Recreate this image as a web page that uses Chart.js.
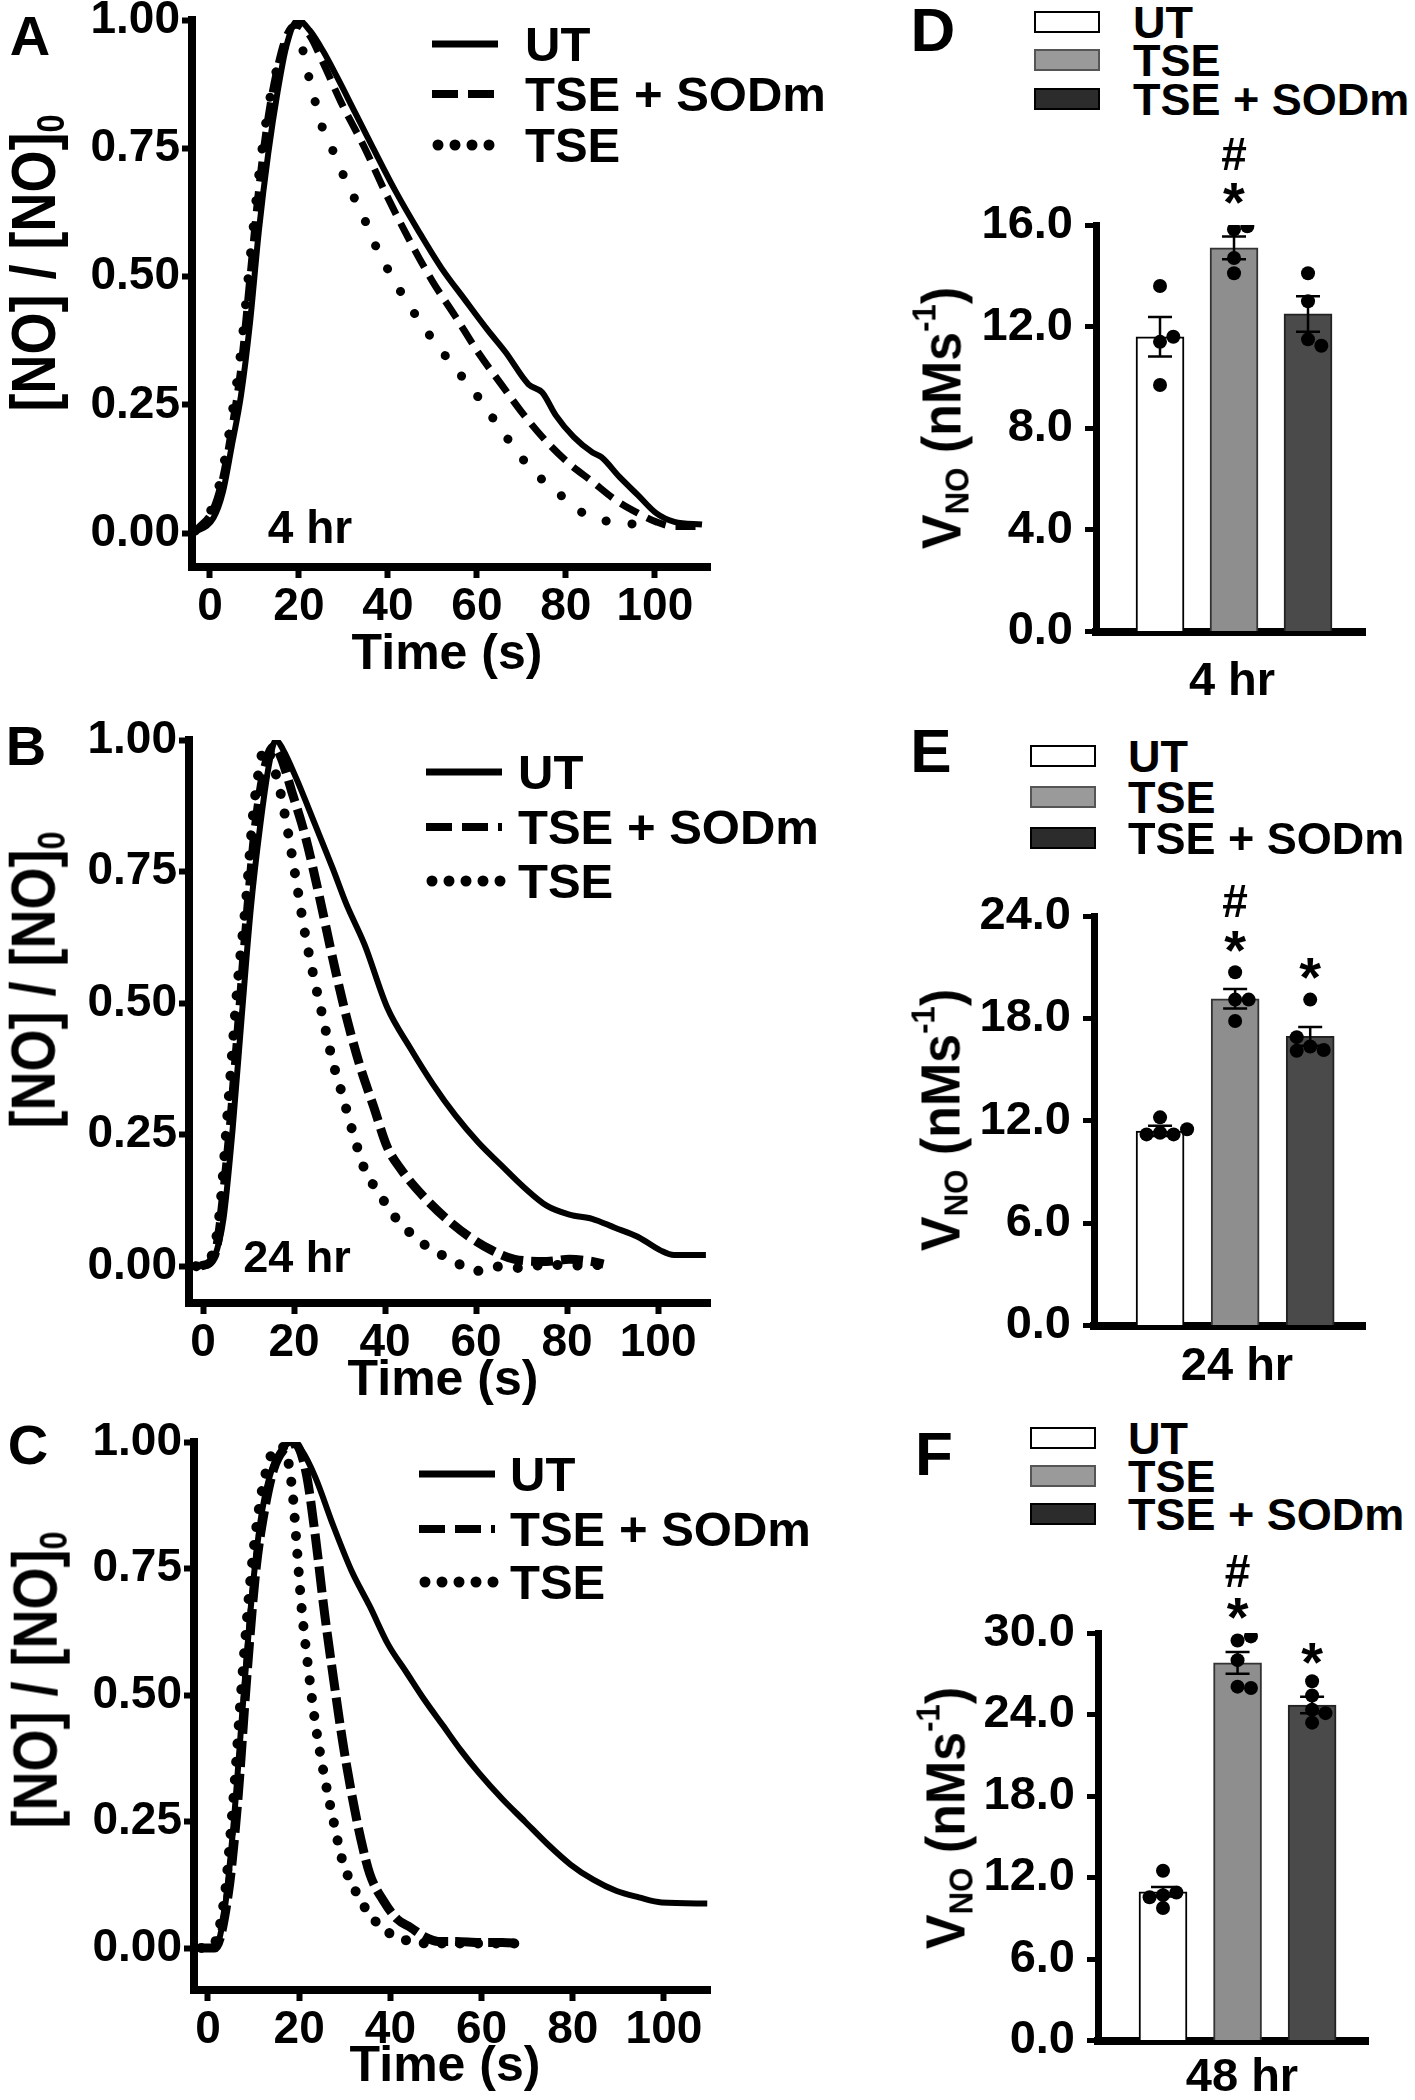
<!DOCTYPE html>
<html>
<head>
<meta charset="utf-8">
<script src="https://cdn.jsdelivr.net/npm/chart.js@4.4.1/dist/chart.umd.min.js"></script>
<style>
  body { margin: 0; background: #fff; width: 1415px; height: 2100px; position: relative; overflow: hidden;
         font-family: "Liberation Sans", Arial, sans-serif; font-weight: bold; color: #000; }
  canvas { position: absolute; }
  .c { position: absolute; transform: translate(-50%, -50%); white-space: nowrap; line-height: 1; }
  .l { position: absolute; transform: translateY(-50%); white-space: nowrap; line-height: 1; }
  .rot { position: absolute; transform: translate(-50%, -50%) scaleX(1.17) rotate(-90deg); white-space: nowrap; line-height: 1; }
  .rot2 { position: absolute; transform: translate(-50%, -50%) scaleX(1.07) rotate(-90deg); white-space: nowrap; line-height: 1; }
  sub, sup { font-size: 60%; }
  sub { vertical-align: -0.25em; }
  sup { vertical-align: 0.75em; }
  .box { position: absolute; border: 2px solid #000; box-sizing: border-box; }
</style>
</head>
<body>

<canvas id="chartA" width="680" height="642" style="left:50px;top:-10px"></canvas>
<canvas id="chartB" width="680" height="668" style="left:50px;top:700px"></canvas>
<canvas id="chartC" width="680" height="655" style="left:50px;top:1400px"></canvas>
<canvas id="chartD" width="420" height="537" style="left:960px;top:130px"></canvas>
<canvas id="chartE" width="420" height="501" style="left:960px;top:860px"></canvas>
<canvas id="chartF" width="420" height="536" style="left:960px;top:1540px"></canvas>

<div class="c" style="left:30px;top:36px;font-size:56px">A</div>
<div class="c" style="left:26px;top:746px;font-size:56px">B</div>
<div class="c" style="left:28px;top:1445px;font-size:56px">C</div>
<div class="c" style="left:933px;top:30px;font-size:62px">D</div>
<div class="c" style="left:931px;top:751px;font-size:62px">E</div>
<div class="c" style="left:934px;top:1454px;font-size:62px">F</div>

<div class="rot" style="left:36px;top:263px;font-size:54px">[NO] / [NO]<sub>0</sub></div>
<div class="rot" style="left:36px;top:980px;font-size:54px">[NO] / [NO]<sub>0</sub></div>
<div class="rot" style="left:38px;top:1680px;font-size:54px">[NO] / [NO]<sub>0</sub></div>

<div class="c" style="left:447px;top:652px;font-size:50px">Time (s)</div>
<div class="c" style="left:443px;top:1378px;font-size:50px">Time (s)</div>
<div class="c" style="left:445px;top:2064px;font-size:50px">Time (s)</div>

<div class="c" style="left:310px;top:527px;font-size:46px">4 hr</div>
<div class="c" style="left:297px;top:1256px;font-size:45px">24 hr</div>

<div class="rot2" style="left:941px;top:418px;font-size:52px">V<sub>NO</sub> (nMs<sup>-1</sup>)</div>
<div class="rot2" style="left:940px;top:1120px;font-size:52px">V<sub>NO</sub> (nMs<sup>-1</sup>)</div>
<div class="rot2" style="left:945px;top:1818px;font-size:52px">V<sub>NO</sub> (nMs<sup>-1</sup>)</div>

<div class="c" style="left:1232px;top:678px;font-size:47px">4 hr</div>
<div class="c" style="left:1237px;top:1363px;font-size:47px">24 hr</div>
<div class="c" style="left:1242px;top:2074px;font-size:47px">48 hr</div>

<script>
// ---- time courses, [NO]/[NO]0 vs time (s) ----
const timeTicks = [0, 20, 40, 60, 80, 100];
const ratioTicks = [0, 0.25, 0.5, 0.75, 1];
const lineNames = ['UT', 'TSE + SODm', 'TSE'];

// A - 4 hr
const tA_UT = [-3.8, 0.8, 2.9, 4.9, 7, 9, 11, 13.1, 15.2, 17.2, 19.8, 22.4, 25.4, 28.5, 32.6, 36.7, 41.8, 47, 52, 57.2, 62.4, 66.5, 71.6, 74.7, 77.7, 81.8, 86, 88, 92.1, 96.2, 100.3, 104.4, 110.6];
const yA_UT = [0, 0.03, 0.08, 0.17, 0.27, 0.41, 0.59, 0.74, 0.86, 0.95, 1.0, 0.98, 0.94, 0.89, 0.82, 0.75, 0.665, 0.587, 0.517, 0.456, 0.396, 0.352, 0.29, 0.274, 0.23, 0.187, 0.157, 0.148, 0.109, 0.074, 0.039, 0.022, 0.017];
const tA_SOD = [-3.3, 0.8, 2.9, 4.9, 7, 9, 11, 13.1, 15.2, 17.2, 19.3, 22.4, 25.4, 29.5, 34.7, 39.8, 44.9, 50, 55.2, 60.3, 65.4, 70.6, 75.7, 80.8, 86, 91.1, 96.2, 100.3, 104.4, 110.6];
const yA_SOD = [0.004, 0.048, 0.109, 0.204, 0.326, 0.5, 0.674, 0.813, 0.909, 0.97, 0.99, 0.97, 0.917, 0.839, 0.752, 0.657, 0.57, 0.491, 0.422, 0.352, 0.291, 0.23, 0.178, 0.135, 0.1, 0.065, 0.039, 0.022, 0.013, 0.013];
const tA_TSE = [-3.3, 0.8, 2.9, 4.9, 7, 9, 11, 13.1, 15.2, 17.7, 20.3, 22.4, 25.4, 28.5, 31.1, 33.6, 36.7, 39.8, 42.9, 48.5, 54.7, 60.3, 65.9, 72.1, 78.3, 83.9, 90, 96.2];
const yA_TSE = [0.004, 0.057, 0.126, 0.23, 0.36, 0.535, 0.7, 0.83, 0.91, 0.957, 0.952, 0.883, 0.787, 0.73, 0.674, 0.635, 0.57, 0.517, 0.47, 0.396, 0.326, 0.265, 0.196, 0.126, 0.078, 0.039, 0.022, 0.017];

// B - 24 hr
const tB_UT = [-2, 0.5, 2.5, 4.5, 6.5, 8.5, 10.5, 12.5, 14.5, 16, 17.5, 20.5, 24.5, 28.5, 31.5, 35.5, 40.5, 45.5, 50.5, 55.5, 60.5, 65.5, 70.5, 75.5, 80.5, 85.5, 90.5, 95.5, 100.5, 103.5, 110.5];
const yB_UT = [0, 0, 0.017, 0.09, 0.26, 0.474, 0.68, 0.833, 0.953, 1.0, 0.983, 0.927, 0.842, 0.756, 0.688, 0.611, 0.491, 0.415, 0.346, 0.286, 0.235, 0.192, 0.15, 0.115, 0.098, 0.09, 0.073, 0.056, 0.03, 0.021, 0.021];
const tB_SOD = [-0.5, 2.5, 5.5, 7.5, 9.5, 11.5, 13.5, 15.5, 17, 19.5, 22.5, 25.5, 28.5, 31.5, 34.5, 37.5, 40.5, 43.5, 48.5, 53.5, 58.5, 63.5, 68.5, 75.5, 80.5, 85.5, 88];
const yB_SOD = [0, 0.02, 0.218, 0.423, 0.645, 0.833, 0.944, 0.987, 0.97, 0.902, 0.816, 0.705, 0.585, 0.474, 0.38, 0.303, 0.226, 0.184, 0.132, 0.09, 0.056, 0.03, 0.013, 0.009, 0.013, 0.009, 0.004];
const tB_TSE = [-1.5, 1.5, 3.5, 5.5, 7.5, 9.5, 11, 12.5, 13.5, 16.5, 18.5, 20.5, 22.5, 24.5, 26.5, 28.5, 30.5, 33, 35.5, 38.5, 42.5, 46.5, 50.5, 54.5, 58.5, 61.5, 65.5, 70.5, 75.5, 80.5, 85.5, 88.5];
const yB_TSE = [0, 0.013, 0.09, 0.303, 0.526, 0.7, 0.859, 0.953, 0.987, 0.919, 0.833, 0.731, 0.628, 0.543, 0.466, 0.389, 0.329, 0.252, 0.184, 0.141, 0.09, 0.056, 0.03, 0.013, -0.006, -0.009, 0, -0.004, 0.004, 0, 0.004, -0.004];

// C - 48 hr
const tC_UT = [-1.5, 1.5, 3.5, 5.5, 7.5, 9.5, 11.5, 13.5, 15.5, 18.5, 20.5, 23.5, 27.5, 31.5, 35.5, 39.5, 43.5, 47.5, 51.5, 55.5, 59.5, 64.5, 69.5, 74.5, 79.5, 84.5, 89.5, 94.5, 99.5, 109.5];
const yC_UT = [0, 0, 0.066, 0.234, 0.463, 0.684, 0.843, 0.931, 0.975, 1.0, 0.984, 0.931, 0.834, 0.745, 0.675, 0.6, 0.545, 0.49, 0.44, 0.39, 0.345, 0.295, 0.25, 0.205, 0.165, 0.135, 0.113, 0.1, 0.09, 0.088];
const tC_SOD = [-1.5, 1.5, 4.5, 6.5, 8.5, 10.5, 12.5, 14.5, 16.5, 19, 21.5, 23.5, 25.5, 27.5, 29.5, 31.5, 33.5, 35.5, 38.5, 41.5, 44.5, 47.5, 50.5, 54.5, 59.5, 64.5, 68.5];
const yC_SOD = [0, 0, 0.11, 0.287, 0.534, 0.746, 0.87, 0.949, 0.984, 0.997, 0.94, 0.817, 0.666, 0.534, 0.41, 0.305, 0.216, 0.146, 0.093, 0.057, 0.04, 0.022, 0.013, 0.013, 0.011, 0.011, 0.009];
const tC_TSE = [-1.5, 0.5, 3.5, 5.5, 7.5, 9.5, 11.5, 13.5, 15, 16.5, 18.5, 19.5, 20.5, 22, 23.5, 25.5, 27.5, 29.5, 32.5, 35.5, 39.5, 44.5, 49.5, 59.5, 69.5];
const yC_TSE = [0, 0, 0.093, 0.287, 0.534, 0.746, 0.887, 0.966, 0.99, 0.99, 0.904, 0.79, 0.675, 0.552, 0.446, 0.34, 0.252, 0.172, 0.11, 0.066, 0.031, 0.013, 0.009, 0.009, 0.009];

// ---- V_NO bar panels ----
const groups = ['UT', 'TSE', 'TSE + SODm'];
const barFill = ['#ffffff', '#8e8e8e', '#4a4a4a'];
const keyFill = ['#ffffff', '#9a9a9a', '#2c2c2c'];

const ticksD = [0, 4, 8, 12, 16];
const meanD = [11.6, 15.1, 12.5];
const semD = [0.78, 0.45, 0.7];
const ptsD_UT = [13.6, 11.4, 11.6, 9.7];
const ptsD_TSE = [15.83, 15.95, 14.7, 14.1];
const ptsD_SOD = [14.1, 13.0, 11.5, 11.25];
const markGrpD = [2, 2], markSymD = ['#', '*'], markValD = [18.8, 17.25];

const ticksE = [0, 6, 12, 18, 24];
const meanE = [11.4, 19.15, 16.95];
const semE = [0.3, 0.57, 0.55];
const ptsE_UT = [12.2, 11.3, 11.2, 11.2, 11.5];
const ptsE_TSE = [20.7, 19.1, 19.1, 17.85];
const ptsE_SOD = [19.1, 16.35, 16.15, 16.9, 16.1];
const markGrpE = [2, 2, 3], markSymE = ['#', '*', '*'], markValE = [24.9, 22.5, 20.9];

const ticksF = [0, 6, 12, 18, 24, 30];
const meanF = [10.95, 27.8, 24.7];
const semF = [0.35, 0.8, 0.6];
const ptsF_UT = [12.5, 10.7, 10.9, 10.55, 9.75];
const ptsF_TSE = [29.45, 29.75, 28.0, 26.05, 25.95];
const ptsF_SOD = [26.45, 25.4, 24.35, 23.4, 24.1];
const markGrpF = [2, 2, 3], markSymF = ['#', '*', '*'], markValF = [34.6, 31.8, 28.5];

Chart.defaults.font.family = '"Liberation Sans", Arial, sans-serif';
Chart.defaults.font.weight = 'bold';
Chart.defaults.color = '#000';

const xy = (ts, vs) => ts.map((t, i) => ({ x: t, y: vs[i] }));

function lineChart(id, ut, sod, tse, xr, yr, padTop, yw, dot) {
  return new Chart(document.getElementById(id), {
    type: 'line',
    data: {
      datasets: [
        { data: ut, borderColor: '#000', borderWidth: 6 },
        { data: sod, borderColor: '#000', borderWidth: dot.dashW, borderDash: dot.dash },
        { data: tse, borderColor: '#000', borderWidth: dot.w, borderDash: [0.1, dot.gap], borderCapStyle: 'round' }
      ]
    },
    options: {
      responsive: false, animation: false, devicePixelRatio: 1,
      layout: { padding: { top: padTop, right: 20, left: 0, bottom: 0 } },
      plugins: { legend: { display: false }, tooltip: { enabled: false } },
      elements: { point: { radius: 0 }, line: { cubicInterpolationMode: 'monotone', fill: false } },
      scales: {
        x: {
          type: 'linear', min: xr[0], max: xr[1],
          afterBuildTicks: s => { s.ticks = timeTicks.map(v => ({ value: v })); },
          afterFit: s => { s.height = 65; },
          grid: { drawOnChartArea: false, tickLength: 11, tickWidth: 6, tickColor: '#000' },
          border: { color: '#000', width: 8 },
          ticks: { font: { size: 46, lineHeight: 1 }, padding: 6, maxRotation: 0, autoSkip: false }
        },
        y: {
          type: 'linear', min: yr[0], max: yr[1],
          afterBuildTicks: s => { s.ticks = ratioTicks.map(v => ({ value: v })); },
          afterFit: s => { s.width = yw; },
          grid: { drawOnChartArea: false, tickLength: 10, tickWidth: 6, tickColor: '#000' },
          border: { color: '#000', width: 8 },
          ticks: { font: { size: 46, lineHeight: 1 }, padding: 2, callback: v => v.toFixed(2) }
        }
      }
    }
  });
}

lineChart('chartA', xy(tA_UT, yA_UT), xy(tA_SOD, yA_SOD), xy(tA_TSE, yA_TSE),
  [-4.04, 112.4], [-0.066, 1.0], 30, 142, { dashW: 7, dash: [20, 10], w: 9, gap: 26 });
lineChart('chartB', xy(tB_UT, yB_UT), xy(tB_SOD, yB_SOD), xy(tB_TSE, yB_TSE),
  [-3.08, 111.4], [-0.070, 1.0], 40, 139, { dashW: 9, dash: [22, 8], w: 10, gap: 20 });
lineChart('chartC', xy(tC_UT, yC_UT), xy(tC_SOD, yC_SOD), xy(tC_TSE, yC_TSE),
  [-3.07, 110.1], [-0.083, 1.0], 42, 144, { dashW: 9, dash: [26, 7], w: 10, gap: 18 });

// spread overlapping dots sideways, GraphPad style
function swarm(vals, grp, pxPerUnit) {
  const placed = [];
  const slots = [0, 1, -1, 2, -2];
  return vals.map(v => {
    for (const k of slots) {
      const dx = k * 0.18;
      if (placed.every(p => Math.hypot((p.dx - dx) * 74, (p.v - v) * pxPerUnit) >= 13)) {
        placed.push({ dx, v });
        return { x: grp + dx, y: v };
      }
    }
    return { x: grp, y: v };
  });
}

const errorBars = {
  id: 'errorBars',
  afterDatasetDraw(chart, args, opts) {
    if (args.index !== 1) return;
    const { ctx, scales: { x, y } } = chart;
    ctx.save();
    ctx.strokeStyle = '#000';
    ctx.lineWidth = 2.5;
    opts.mean.forEach((m, i) => {
      const px = x.getPixelForValue(i + 1);
      const hi = y.getPixelForValue(m + opts.sem[i]);
      const lo = y.getPixelForValue(m - opts.sem[i]);
      ctx.beginPath();
      ctx.moveTo(px, hi); ctx.lineTo(px, lo);
      ctx.moveTo(px - 12, hi); ctx.lineTo(px + 12, hi);
      ctx.moveTo(px - 12, lo); ctx.lineTo(px + 12, lo);
      ctx.stroke();
    });
    ctx.restore();
  }
};

const sigMarks = {
  id: 'sigMarks',
  afterDraw(chart, args, opts) {
    const { ctx, scales: { x, y } } = chart;
    ctx.save();
    ctx.fillStyle = '#000';
    ctx.textAlign = 'center';
    ctx.textBaseline = 'alphabetic';
    opts.sym.forEach((s, i) => {
      ctx.font = 'bold ' + (s === '*' ? 56 : 46) + 'px "Liberation Sans", Arial, sans-serif';
      const m = ctx.measureText(s);
      const cy = y.getPixelForValue(opts.val[i]);
      ctx.fillText(s, x.getPixelForValue(opts.grp[i]), cy + (m.actualBoundingBoxAscent - m.actualBoundingBoxDescent) / 2);
    });
    ctx.restore();
  }
};

function barChart(id, mean, sem, pts, ticks, marks, xr, padTop, padRight, yw) {
  const ymax = ticks[ticks.length - 1];
  const ppu = 412 / ymax;
  const dots = [].concat(...pts.map((p, i) => swarm(p, i + 1, ppu)));
  return new Chart(document.getElementById(id), {
    type: 'bar',
    data: {
      datasets: [
        { type: 'scatter', data: dots, pointRadius: 7, pointBackgroundColor: '#000', pointBorderWidth: 0, order: 1 },
        { type: 'bar', data: mean.map((m, i) => ({ x: i + 1, y: m })), backgroundColor: barFill,
          borderColor: ['#000', '#333', '#222'], borderWidth: 2, barThickness: 48, order: 2 }
      ]
    },
    options: {
      responsive: false, animation: false, devicePixelRatio: 1,
      layout: { padding: { top: padTop, right: padRight, left: 0, bottom: 0 } },
      plugins: {
        legend: { display: false }, tooltip: { enabled: false },
        errorBars: { mean, sem },
        sigMarks: { grp: marks[0], sym: marks[1], val: marks[2] }
      },
      scales: {
        x: {
          type: 'linear', min: xr[0], max: xr[1], offset: false,
          afterFit: s => { s.height = 30; },
          grid: { display: false },
          border: { color: '#000', width: 8 },
          ticks: { display: false }
        },
        y: {
          type: 'linear', min: 0, max: ymax,
          afterBuildTicks: s => { s.ticks = ticks.map(v => ({ value: v })); },
          afterFit: s => { s.width = yw; },
          grid: { drawOnChartArea: false, tickLength: 11, tickWidth: 5, tickColor: '#000' },
          border: { color: '#000', width: 7 },
          ticks: { font: { size: 47, lineHeight: 1 }, padding: 12, callback: v => v.toFixed(1) }
        }
      }
    },
    plugins: [errorBars, sigMarks]
  });
}

barChart('chartD', meanD, semD, [ptsD_UT, ptsD_TSE, ptsD_SOD], ticksD, [markGrpD, markSymD, markValD], [0.135, 3.77], 95, 15, 136);
barChart('chartE', meanE, semE, [ptsE_UT, ptsE_TSE, ptsE_SOD], ticksE, [markGrpE, markSymE, markValE], [0.12, 3.73], 56, 15, 134);
barChart('chartF', meanF, semF, [ptsF_UT, ptsF_TSE, ptsF_SOD], ticksF, [markGrpF, markSymF, markValF], [0.128, 3.75], 93, 12, 138);

// ---- legends ----
const NS = 'http://www.w3.org/2000/svg';
function addText(txt, x, y, size) {
  const d = document.createElement('div');
  d.className = 'l';
  d.style.left = x + 'px'; d.style.top = y + 'px'; d.style.fontSize = size + 'px';
  d.textContent = txt;
  document.body.appendChild(d);
}
function lineKey(x0, x1, textX, rows) {
  const looks = [
    { w: 7, dash: '', cap: 'butt' },
    { w: 8, dash: '26 10', cap: 'butt' },
    { w: 11, dash: '0 17', cap: 'round' }
  ];
  rows.forEach((y, i) => {
    const svg = document.createElementNS(NS, 'svg');
    svg.setAttribute('width', x1 - x0 + 12);
    svg.setAttribute('height', 20);
    svg.style.position = 'absolute';
    svg.style.left = (x0 - 6) + 'px';
    svg.style.top = (y - 10) + 'px';
    const ln = document.createElementNS(NS, 'line');
    ln.setAttribute('x1', i === 2 ? 12 : 6); ln.setAttribute('x2', x1 - x0 + 6);
    ln.setAttribute('y1', 10); ln.setAttribute('y2', 10);
    ln.setAttribute('stroke', '#000');
    ln.setAttribute('stroke-width', looks[i].w);
    ln.setAttribute('stroke-linecap', looks[i].cap);
    if (looks[i].dash) ln.setAttribute('stroke-dasharray', looks[i].dash);
    svg.appendChild(ln);
    document.body.appendChild(svg);
    addText(lineNames[i], textX, y, 49);
  });
}
lineKey(432, 498, 525, [44, 94, 145]);
lineKey(426, 502, 518, [772, 827, 881]);
lineKey(419, 495, 510, [1474, 1529, 1582]);

function barKey(x0, x1, textX, rows) {
  rows.forEach((y, i) => {
    const b = document.createElement('div');
    b.className = 'box';
    b.style.left = x0 + 'px'; b.style.top = (y - 11) + 'px';
    b.style.width = (x1 - x0) + 'px'; b.style.height = '22px';
    b.style.background = keyFill[i];
    if (i === 1) b.style.borderColor = '#555';
    document.body.appendChild(b);
    addText(groups[i], textX, y, 45);
  });
}
barKey(1034, 1100, 1133, [22, 60, 99]);
barKey(1030, 1096, 1128, [756, 797, 838]);
barKey(1030, 1096, 1128, [1438, 1476, 1514]);
</script>
</body>
</html>
